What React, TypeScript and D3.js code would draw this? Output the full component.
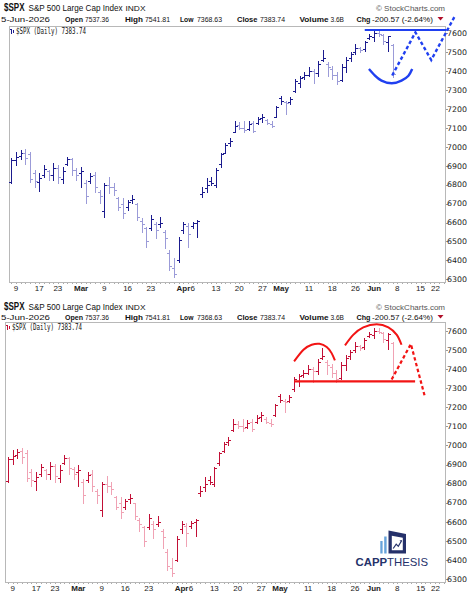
import React from 'react';
import * as d3 from 'd3';

// ---- Data: $SPX daily bars, index 0 = 9-Feb-2026 (first bar is index -1 = 6-Feb) ----
const startIndex = -1;
const highs = [6939,6975,6983,6987,6975,6878,6860,6904,6878,6913,6904,6895,6948,6939,6886,6895,6825,6860,6869,6772,6807,6842,6807,6737,6728,6719,6746,6701,6622,6578,6640,6605,6631,6560,6455,6411,6525,6605,6596,6605,6613,6790,6834,6842,6886,6966,7019,7045,7138,7129,7138,7135,7138,7159,7173,7147,7138,7217,7270,7244,7265,7358,7376,7393,7423,7411,7455,7512,7446,7429,7393,7438,7473,7499,7543,7529,7561,7596,7614,7617,7596,7587,7541.81];
const lows = [6807,6904,6934,6909,6816,6790,6768,6842,6825,6825,6807,6807,6904,6851,6825,6790,6701,6807,6763,6701,6631,6754,6746,6666,6622,6666,6701,6613,6552,6472,6560,6516,6578,6464,6349,6314,6393,6543,6472,6569,6525,6737,6763,6798,6790,6895,6966,7005,7076,7094,7076,7089,7076,7120,7129,7120,7103,7156,7226,7173,7226,7288,7314,7358,7376,7335,7376,7451,7376,7358,7332,7349,7393,7455,7490,7499,7508,7570,7561,7587,7543,7508,7368.63];
const opens = [6815,6930,6950,6970,6960,6860,6815,6850,6870,6850,6890,6830,6910,6935,6875,6860,6810,6820,6850,6760,6660,6800,6790,6730,6700,6680,6720,6700,6610,6570,6570,6590,6590,6550,6440,6360,6400,6560,6580,6580,6600,6750,6780,6820,6800,6910,6970,7020,7080,7115,7100,7095,7125,7125,7150,7140,7120,7160,7260,7235,7235,7295,7340,7370,7380,7400,7390,7460,7440,7410,7380,7355,7420,7470,7500,7520,7515,7575,7580,7600,7590,7555,7537.36];
const closes = [6930,6945,6965,6940,6830,6820,6835,6885,6850,6890,6840,6870,6935,6880,6850,6870,6740,6845,6790,6740,6800,6790,6770,6680,6650,6710,6725,6630,6590,6500,6620,6560,6600,6520,6370,6330,6510,6590,6540,6595,6610,6760,6800,6810,6880,6960,7010,7030,7110,7100,7090,7120,7085,7145,7160,7125,7110,7210,7240,7230,7255,7350,7365,7380,7400,7390,7440,7470,7420,7380,7350,7420,7460,7490,7520,7510,7555,7585,7600,7595,7560,7584.31,7383.74];

const priceTicks = [6300,6400,6500,6600,6700,6800,6900,7000,7100,7200,7300,7400,7500,7600];
const dateTickIdx = [0,5,9,14,19,24,29,36,38,43,48,53,57,63,68,73,77,82,87,92];
const dateTickLabels = ['9','17','23','Mar','9','16','23','Apr','6','13','20','27','May','11','18','26','Jun','8','15','22'];
const monthLabels = ['Mar','Apr','May','Jun'];
const lastIdx = 92;

// ---- Annotations (index, price) ----
const topResistance = [[75, 7617], [92.6, 7617]];
const topArc = [[75.9, 7411], [77.2, 7376], [78.6, 7350], [80.8, 7336], [82.9, 7350], [84.4, 7376], [85.2, 7411]];
const topZigzag = [[80.9, 7377], [85.9, 7605], [89.3, 7459], [94.4, 7692]];
const bottomSupport = [[60, 7336], [85.8, 7336]];
const bottomLeftArc = [[60.0, 7441], [62.0, 7502], [63.75, 7528], [65.4, 7533], [66.95, 7516], [68.0, 7484], [68.7, 7446]];
const bottomRightArc = [[70.85, 7525], [72.6, 7580], [74.75, 7619], [77.6, 7636], [80.1, 7619], [81.9, 7580], [82.9, 7528]];
const bottomZigzag = [[80.8, 7346], [84.9, 7532], [87.9, 7254]];

const SANS = 'Liberation Sans, Arial, sans-serif';

type Cfg = {
  left: number; right: number; top: number; bottom: number;
  x0: number; dx: number; y6300: number; y7600: number;
  dark: string; light: string; accent: string; titleY: number; line2Y: number;
};

function Header({ cfg }: { cfg: Cfg }) {
  const t = cfg.titleY, l = cfg.line2Y;
  const items: [string, number, number, boolean][] = [
    ['5-Jun-2026', 1, 49, false], ['Open', 65, 18, true], ['7537.36', 85, 24, false],
    ['High', 125, 18, true], ['7541.81', 145, 25, false], ['Low', 180, 13.5, true],
    ['7368.63', 197, 25, false], ['Close', 237, 20.5, true], ['7383.74', 260, 25, false],
    ['Volume', 299.5, 29, true], ['3.6B', 330.5, 13.5, false], ['Chg', 356.5, 14, true],
    ['-200.57 (-2.64%)', 372, 61, false],
  ];
  return (
    <g fontFamily={SANS} fill="#111">
      <text x={4} y={t} fontWeight="bold" fontSize={10.5} textLength={20.5} lengthAdjust="spacingAndGlyphs">$SPX</text>
      <text x={28.5} y={t} fontSize={8.5} textLength={94} lengthAdjust="spacingAndGlyphs">{'S&P 500 Large Cap Index'}</text>
      <text x={125.5} y={t} fontSize={7.2} textLength={20} lengthAdjust="spacingAndGlyphs">INDX</text>
      <text x={376} y={t} fontSize={8} fill="#555" textLength={69} lengthAdjust="spacingAndGlyphs">{'\u00A9 StockCharts.com'}</text>
      {items.map(([s, x, w, b], k) => (
        <text key={k} x={x} y={l} fontSize={8} fontWeight={b ? 'bold' : 'normal'} textLength={w} lengthAdjust="spacingAndGlyphs">{s}</text>
      ))}
      <path d={`M437.5 ${l - 5} L443.5 ${l - 5} L440.5 ${l - 1.5} Z`} fill="#b0102a" />
    </g>
  );
}

function Panel({ cfg, children }: { cfg: Cfg; children: (x: any, y: any) => React.ReactNode }) {
  const x = d3.scaleLinear().domain([0, 1]).range([cfg.x0, cfg.x0 + cfg.dx]);
  const y = d3.scaleLinear().domain([6300, 7600]).range([cfg.y6300, cfg.y7600]);
  const bars = highs.map((h, k) => {
    const i = startIndex + k;
    const px = Math.round(x(i)) + 0.5;
    const prev = k > 0 ? closes[k - 1] : opens[k];
    const col = closes[k] >= prev ? cfg.dark : cfg.light;
    const yo = Math.round(y(opens[k])) + 0.5;
    const yc = Math.round(y(closes[k])) + 0.5;
    const d = `M${px} ${Math.round(y(h))}V${Math.round(y(lows[k])) + 1}M${px - 2.5} ${yo}H${px}M${px} ${yc}H${px + 2.5}`;
    return <path key={k} d={d} stroke={col} strokeWidth={1} fill="none" shapeRendering="crispEdges" />;
  });
  const dayTicks = d3.range(startIndex, lastIdx + 1);
  return (
    <g>
      <Header cfg={cfg} />
      <rect x={cfg.left} y={cfg.top} width={cfg.right - cfg.left} height={cfg.bottom - cfg.top} fill="#fff" stroke="#b8b8b8" strokeWidth={1} shapeRendering="crispEdges" />
      {/* legend */}
      <g>
        <path d={`M${cfg.left + 1.5} ${cfg.top + 2}V${cfg.top + 7}M${cfg.left + 0.5} ${cfg.top + 3}H${cfg.left + 1.5}M${cfg.left + 3.5} ${cfg.top + 3}V${cfg.top + 6}M${cfg.left + 3.5} ${cfg.top + 4.5}H${cfg.left + 4.5}`}
          stroke={cfg.dark} strokeWidth={1} fill="none" shapeRendering="crispEdges" />
        <text x={cfg.left + 6.5} y={cfg.top + 7.2} fontFamily="DejaVu Sans Mono, monospace" fontSize={8} fill="#111" textLength={70} lengthAdjust="spacingAndGlyphs">$SPX (Daily) 7383.74</text>
      </g>
      {/* y axis */}
      {priceTicks.map((p) => (
        <g key={p}>
          <line x1={cfg.right} x2={cfg.right + 2} y1={Math.round(y(p)) + 0.5} y2={Math.round(y(p)) + 0.5} stroke="#999" shapeRendering="crispEdges" />
          <text x={cfg.right + 1.5} y={y(p) + 2.8} fontFamily="DejaVu Sans, sans-serif" fontSize={7.6} fill="#222" textLength={20} lengthAdjust="spacingAndGlyphs">{p}</text>
        </g>
      ))}
      {/* x axis day ticks */}
      {dayTicks.map((i) => (
        <line key={i} x1={Math.round(x(i)) + 0.5} x2={Math.round(x(i)) + 0.5} y1={cfg.bottom} y2={cfg.bottom + 1.5} stroke="#aaa" shapeRendering="crispEdges" />
      ))}
      {dateTickIdx.map((i, k) => {
        const lab = dateTickLabels[k];
        const bold = monthLabels.includes(lab);
        const cx = Math.min(x(i), cfg.right - 10);
        return (
          <text key={k} x={cx} y={cfg.bottom + 8} textAnchor="middle" fontFamily={SANS} fontSize={8} fontWeight={bold ? 'bold' : 'normal'} fill="#222">{lab}</text>
        );
      })}
      <g>{bars}</g>
      {children(x, y)}
    </g>
  );
}

const topCfg: Cfg = {
  left: 9.5, right: 445.5, top: 26.5, bottom: 282.5,
  x0: 16, dx: 4.65, y6300: 279.3, y7600: 33.3,
  dark: '#1b1b8e', light: '#9b9bd8', accent: '#2040f0', titleY: 11, line2Y: 22,
};
const botCfg: Cfg = {
  left: 5.5, right: 445.5, top: 322.5, bottom: 582.5,
  x0: 12.7, dx: 4.69, y6300: 579, y7600: 331,
  dark: '#c20f36', light: '#f0a2b4', accent: '#f21414', titleY: 309.5, line2Y: 320,
};

function Logo() {
  const navy = '#25316a';
  return (
    <g>
      <rect x={380.3} y={541} width={2.3} height={12.5} fill="#67a3da" />
      <rect x={384.2} y={536.5} width={2.4} height={17} fill="#67a3da" />
      <path d="M388.5 530.5 L406 534 L406 553.5 L388.5 553.5 Z" fill={navy} />
      <path d="M391.8 535.8 L402.8 537.8 L402.8 550.3 L391.8 550.3 Z" fill="#fff" />
      <polyline points="393.2,548.5 396.2,544.2 398.3,546.3 401.3,541.2" stroke={navy} strokeWidth={1.2} fill="none" />
      <path d="M402 540 L399.5 540.6 L401.6 542.3 Z" fill={navy} />
      <text x={355.5} y={566.3} fontFamily={SANS} fontSize={10.2} fill={navy} textLength={72.5} lengthAdjust="spacingAndGlyphs">
        <tspan fontWeight="bold">CAPP</tspan><tspan fontWeight="normal">THESIS</tspan>
      </text>
    </g>
  );
}

export default function App() {
  const mk = (x: any, y: any, curve?: any) => {
    const l = d3.line<number[]>().x((d) => x(d[0])).y((d) => y(d[1]));
    if (curve) l.curve(curve);
    return l;
  };
  return (
    <svg width={470} height={597} viewBox="0 0 470 597" style={{ position: 'absolute', left: 0, top: 0, background: '#fff' }}>
      <rect x={0} y={0} width={470} height={597} fill="#fff" />
      <Panel cfg={topCfg}>
        {(x, y) => (
          <g fill="none" stroke={topCfg.accent}>
            <path d={mk(x, y)(topResistance as any) || ''} strokeWidth={2} />
            <path d={mk(x, y, d3.curveNatural)(topArc as any) || ''} strokeWidth={2.4} />
            <path d={mk(x, y)(topZigzag as any) || ''} strokeWidth={2.4} strokeDasharray="3.5 2.5" />
          </g>
        )}
      </Panel>
      <Panel cfg={botCfg}>
        {(x, y) => (
          <g fill="none" stroke={botCfg.accent}>
            <path d={mk(x, y)(bottomSupport as any) || ''} strokeWidth={2.4} />
            <path d={mk(x, y, d3.curveNatural)(bottomLeftArc as any) || ''} strokeWidth={2} />
            <path d={mk(x, y, d3.curveNatural)(bottomRightArc as any) || ''} strokeWidth={2} />
            <path d={mk(x, y)(bottomZigzag as any) || ''} strokeWidth={2.2} strokeDasharray="3.5 2.5" />
          </g>
        )}
      </Panel>
      <Logo />
    </svg>
  );
}
